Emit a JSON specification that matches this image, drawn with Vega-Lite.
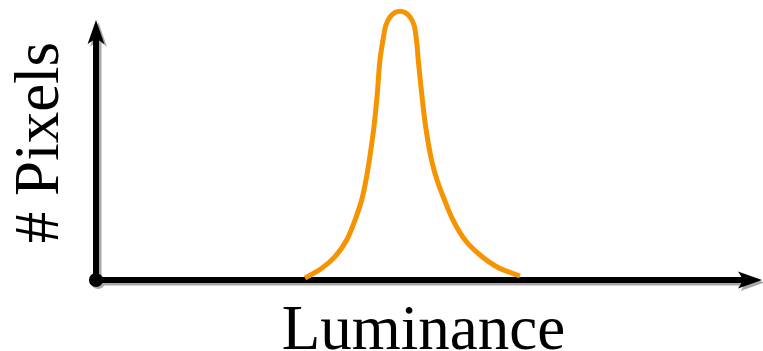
{
  "$schema": "https://vega.github.io/schema/vega-lite/v6.json",
  "autosize": {"type": "none"},
  "width": 666,
  "height": 270,
  "padding": {"left": 96, "top": 10, "right": 1, "bottom": 71},
  "background": "white",
  "config": {
    "view": {"stroke": null},
    "axis": {
      "domain": false, "ticks": false, "labels": false, "grid": false,
      "titleFont": "Liberation Serif", "titleFontSize": 63, "titleFontWeight": "normal",
      "titleColor": "black", "titleBaseline": "alphabetic", "titleAlign": "center"
    }
  },
  "datasets": {
    "curve": [
      {"lum": 31.38, "cnt": 0.74},
      {"lum": 33.89, "cnt": 4.33},
      {"lum": 35.89, "cnt": 8.63},
      {"lum": 37.64, "cnt": 14.81},
      {"lum": 38.89, "cnt": 22.22},
      {"lum": 39.89, "cnt": 29.63},
      {"lum": 40.54, "cnt": 37.04},
      {"lum": 41.04, "cnt": 44.44},
      {"lum": 41.74, "cnt": 56.78},
      {"lum": 42.24, "cnt": 69.15},
      {"lum": 42.64, "cnt": 81.48},
      {"lum": 43.09, "cnt": 88.89},
      {"lum": 43.54, "cnt": 94.44},
      {"lum": 44.14, "cnt": 97.41},
      {"lum": 44.89, "cnt": 99.07},
      {"lum": 45.65, "cnt": 99.56},
      {"lum": 46.40, "cnt": 99.07},
      {"lum": 47.15, "cnt": 97.41},
      {"lum": 47.75, "cnt": 94.44},
      {"lum": 48.12, "cnt": 88.89},
      {"lum": 48.39, "cnt": 81.48},
      {"lum": 48.90, "cnt": 69.15},
      {"lum": 49.50, "cnt": 56.78},
      {"lum": 50.38, "cnt": 44.44},
      {"lum": 51.20, "cnt": 37.04},
      {"lum": 52.33, "cnt": 29.63},
      {"lum": 53.60, "cnt": 22.22},
      {"lum": 55.41, "cnt": 14.81},
      {"lum": 57.66, "cnt": 9.26},
      {"lum": 60.17, "cnt": 4.93},
      {"lum": 63.66, "cnt": 1.48}
    ],
    "axes": [
      {"lum": 0, "cnt": 0, "lum2": 0, "cnt2": 92},
      {"lum": 0, "cnt": 0, "lum2": 97.5, "cnt2": 0}
    ],
    "heads": [
      {"lum": 0, "cnt": 91.85, "dir": "up"},
      {"lum": 98.2, "cnt": 0, "dir": "right"}
    ],
    "origin": [
      {"lum": 0, "cnt": 0}
    ]
  },
  "encoding": {
    "x": {"field": "lum", "type": "quantitative",
      "scale": {"domain": [0, 100], "nice": false, "zero": false},
      "axis": {"title": "Luminance", "orient": "bottom", "titleX": 327, "titleY": 68}},
    "y": {"field": "cnt", "type": "quantitative",
      "scale": {"domain": [0, 100], "nice": false, "zero": false},
      "axis": {"title": "# Pixels", "orient": "left", "titleX": -39, "titleY": 132, "titleAngle": 270}}
  },
  "layer": [
    {
      "data": {"name": "axes"},
      "mark": {"type": "rule", "color": "#a8a8a8", "strokeWidth": 6, "xOffset": 2.5, "yOffset": 2.5, "x2Offset": 2.5, "y2Offset": 2.5},
      "encoding": {
        "x2": {"field": "lum2"},
        "y2": {"field": "cnt2"}
      }
    },
    {
      "data": {"name": "heads"},
      "mark": {"type": "point", "filled": true, "color": "#a8a8a8", "opacity": 1, "size": 576, "xOffset": 2.5, "yOffset": 2.5},
      "encoding": {
        "shape": {"field": "dir", "type": "nominal", "legend": null,
          "scale": {"domain": ["up", "right"], "range": ["M0,-1 L0.7,1 L0,0.55 L-0.7,1 Z", "M1,0 L-1,0.7 L-0.55,0 L-1,-0.7 Z"]}}
      }
    },
    {
      "data": {"name": "origin"},
      "mark": {"type": "point", "filled": true, "shape": "circle", "color": "#a8a8a8", "opacity": 1, "size": 200, "xOffset": 2, "yOffset": 2},
      "encoding": {}
    },
    {
      "data": {"name": "axes"},
      "mark": {"type": "rule", "color": "black", "strokeWidth": 6},
      "encoding": {
        "x2": {"field": "lum2"},
        "y2": {"field": "cnt2"}
      }
    },
    {
      "data": {"name": "heads"},
      "mark": {"type": "point", "filled": true, "color": "black", "opacity": 1, "size": 576},
      "encoding": {
        "shape": {"field": "dir", "type": "nominal", "legend": null,
          "scale": {"domain": ["up", "right"], "range": ["M0,-1 L0.7,1 L0,0.55 L-0.7,1 Z", "M1,0 L-1,0.7 L-0.55,0 L-1,-0.7 Z"]}}
      }
    },
    {
      "data": {"name": "origin"},
      "mark": {"type": "point", "filled": true, "shape": "circle", "color": "black", "opacity": 1, "size": 200},
      "encoding": {}
    },
    {
      "data": {"name": "curve"},
      "mark": {"type": "line", "color": "#f59400", "strokeWidth": 5, "interpolate": "catmull-rom", "strokeCap": "butt"},
      "encoding": {}
    }
  ]
}
